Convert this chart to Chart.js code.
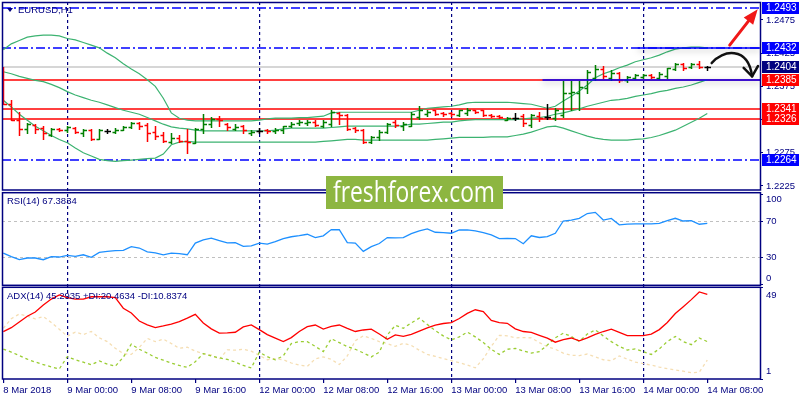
<!DOCTYPE html>
<html lang="en">

<head>
    <meta charset="UTF-8" />
    <title>EURUSD,H1</title>
    <script src="https://cdn.jsdelivr.net/npm/chart.js@4.4.1/dist/chart.umd.min.js"></script>
    <style type="text/css">
        body {
            margin: 0;
            background: #ffffff;
        }

        .chartBox {
            width: 800px;
            height: 400px;
        }
    </style>
</head>

<body>
    <div class="chartBox">
        <canvas id="myChart" width="800" height="400"></canvas>
    </div>

    <script>
        // time axis: one bar per hour, label every 8 bars, grid at day start
        const tickIdx = [0, 8, 16, 24, 32, 40, 48, 56, 64, 72, 80, 88];
        const timeLabels = ['8 Mar 2018', '9 Mar 00:00', '9 Mar 08:00', '9 Mar 16:00', '12 Mar 00:00', '12 Mar 08:00',
            '12 Mar 16:00', '13 Mar 00:00', '13 Mar 08:00', '13 Mar 16:00', '14 Mar 00:00', '14 Mar 08:00'];
        const dayIdx = [8, 32, 56, 80];

        const priceTicks = [1.2225, 1.2275, 1.2325, 1.2375, 1.2425, 1.2475];
        const rsiTicks = [100, 70, 30, 0];
        const rsiLevels = [70, 30];
        const adxTicks = [49, 1];

        // EURUSD H1 bars
        const opens = [1.2403, 1.2349, 1.2325, 1.2311, 1.2317, 1.2312, 1.2302, 1.2311, 1.2309, 1.2312,
            1.2304, 1.2309, 1.2296, 1.2308, 1.2306, 1.2310, 1.2314, 1.2320, 1.2317, 1.2306,
            1.2302, 1.2291, 1.2297, 1.2292, 1.2290, 1.2311, 1.2319, 1.2326, 1.2319, 1.2311,
            1.2316, 1.2305, 1.2308, 1.2310, 1.2307, 1.2309, 1.2316, 1.2320, 1.2320, 1.2322,
            1.2316, 1.2319, 1.2335, 1.2332, 1.2312, 1.2309, 1.2291, 1.2299, 1.2306, 1.2321,
            1.2315, 1.2316, 1.2329, 1.2334, 1.2339, 1.2335, 1.2335, 1.2332, 1.2335, 1.2339,
            1.2339, 1.2332, 1.2331, 1.2325, 1.2327, 1.2331, 1.2317, 1.2331, 1.2329, 1.2327,
            1.2332, 1.2365, 1.2365, 1.2372, 1.2388, 1.2401, 1.2387, 1.2395, 1.2385, 1.2387,
            1.2389, 1.2392, 1.2387, 1.2391, 1.2401, 1.2409, 1.2404, 1.2409, 1.2404];
        const highs = [1.2404, 1.2354, 1.2336, 1.2320, 1.2319, 1.2316, 1.2312, 1.2312, 1.2316, 1.2314,
            1.2311, 1.2311, 1.2311, 1.2311, 1.2312, 1.2316, 1.2321, 1.2321, 1.2320, 1.2316,
            1.2306, 1.2304, 1.2301, 1.2311, 1.2312, 1.2334, 1.2329, 1.2330, 1.2320, 1.2319,
            1.2317, 1.2309, 1.2312, 1.2311, 1.2312, 1.2316, 1.2321, 1.2324, 1.2325, 1.2324,
            1.2324, 1.2339, 1.2337, 1.2334, 1.2314, 1.2311, 1.2300, 1.2309, 1.2320, 1.2325,
            1.2322, 1.2336, 1.2345, 1.2340, 1.2340, 1.2337, 1.2336, 1.2340, 1.2342, 1.2340,
            1.2340, 1.2334, 1.2332, 1.2329, 1.2335, 1.2334, 1.2334, 1.2336, 1.2349, 1.2342,
            1.2383, 1.2383, 1.2383, 1.2400, 1.2407, 1.2405, 1.2400, 1.2397, 1.2390, 1.2394,
            1.2394, 1.2393, 1.2397, 1.2403, 1.2410, 1.2410, 1.2410, 1.2413, 1.2405];
        const lows = [1.2348, 1.2324, 1.2302, 1.2305, 1.2305, 1.2296, 1.2300, 1.2307, 1.2306, 1.2304,
            1.2300, 1.2294, 1.2295, 1.2304, 1.2305, 1.2309, 1.2312, 1.2311, 1.2292, 1.2296,
            1.2291, 1.2289, 1.2291, 1.2274, 1.2289, 1.2304, 1.2314, 1.2315, 1.2309, 1.2309,
            1.2304, 1.2302, 1.2304, 1.2304, 1.2305, 1.2304, 1.2314, 1.2317, 1.2317, 1.2315,
            1.2314, 1.2315, 1.2319, 1.2310, 1.2306, 1.2289, 1.2289, 1.2294, 1.2305, 1.2314,
            1.2309, 1.2315, 1.2326, 1.2331, 1.2332, 1.2331, 1.2331, 1.2331, 1.2332, 1.2335,
            1.2330, 1.2329, 1.2327, 1.2324, 1.2324, 1.2315, 1.2314, 1.2323, 1.2326, 1.2324,
            1.2329, 1.2339, 1.2339, 1.2365, 1.2385, 1.2387, 1.2385, 1.2382, 1.2382, 1.2386,
            1.2388, 1.2388, 1.2386, 1.2388, 1.2400, 1.2400, 1.2403, 1.2403, 1.2400];
        const closes = [1.2349, 1.2325, 1.2311, 1.2319, 1.2311, 1.2304, 1.2311, 1.2309, 1.2314, 1.2306,
            1.2309, 1.2295, 1.2310, 1.2308, 1.2310, 1.2314, 1.2320, 1.2316, 1.2304, 1.2300,
            1.2292, 1.2297, 1.2292, 1.2291, 1.2311, 1.2319, 1.2326, 1.2324, 1.2314, 1.2314,
            1.2309, 1.2306, 1.2308, 1.2308, 1.2310, 1.2315, 1.2319, 1.2321, 1.2322, 1.2317,
            1.2321, 1.2336, 1.2332, 1.2311, 1.2309, 1.2291, 1.2299, 1.2306, 1.2319, 1.2317,
            1.2319, 1.2334, 1.2339, 1.2337, 1.2334, 1.2334, 1.2333, 1.2339, 1.2339, 1.2336,
            1.2332, 1.2330, 1.2329, 1.2327, 1.2327, 1.2320, 1.2332, 1.2328, 1.2329, 1.2339,
            1.2365, 1.2366, 1.2374, 1.2397, 1.2401, 1.2390, 1.2395, 1.2385, 1.2389, 1.2392,
            1.2392, 1.2389, 1.2394, 1.2402, 1.2409, 1.2403, 1.2409, 1.2404, 1.2404];

        // Bollinger Bands
        const bbUpper = [1.2430, 1.2439, 1.2444, 1.2449, 1.2451, 1.2452, 1.2452, 1.2451, 1.2447, 1.2445,
            1.2441, 1.2437, 1.2433, 1.2425, 1.2418, 1.2409, 1.2401, 1.2394, 1.2385, 1.2375,
            1.2357, 1.2335, 1.2327, 1.2324, 1.2323, 1.2323, 1.2323, 1.2323, 1.2323, 1.2323,
            1.2323, 1.2323, 1.2324, 1.2326, 1.2327, 1.2327, 1.2327, 1.2328, 1.2328, 1.2329,
            1.2330, 1.2335, 1.2336, 1.2336, 1.2336, 1.2336, 1.2336, 1.2336, 1.2336, 1.2336,
            1.2336, 1.2336, 1.2339, 1.2342, 1.2343, 1.2344, 1.2345, 1.2347, 1.2350, 1.2351,
            1.2351, 1.2351, 1.2351, 1.2351, 1.2350, 1.2349, 1.2348, 1.2345, 1.2342, 1.2345,
            1.2353, 1.2360, 1.2368, 1.2377, 1.2388, 1.2394, 1.2398, 1.2403, 1.2407, 1.2412,
            1.2415, 1.2418, 1.2422, 1.2427, 1.2431, 1.2433, 1.2434, 1.2434, 1.2433];
        const bbMiddle = [1.2397, 1.2394, 1.2390, 1.2387, 1.2384, 1.2382, 1.2378, 1.2373, 1.2367, 1.2362,
            1.2358, 1.2354, 1.2351, 1.2347, 1.2343, 1.2339, 1.2336, 1.2333, 1.2328, 1.2323,
            1.2318, 1.2314, 1.2312, 1.2311, 1.2309, 1.2308, 1.2308, 1.2308, 1.2308, 1.2308,
            1.2308, 1.2308, 1.2308, 1.2308, 1.2309, 1.2311, 1.2312, 1.2312, 1.2312, 1.2312,
            1.2312, 1.2313, 1.2314, 1.2315, 1.2315, 1.2315, 1.2315, 1.2315, 1.2315, 1.2315,
            1.2316, 1.2318, 1.2318, 1.2319, 1.2320, 1.2321, 1.2321, 1.2323, 1.2324, 1.2325,
            1.2325, 1.2325, 1.2325, 1.2325, 1.2325, 1.2326, 1.2327, 1.2328, 1.2330, 1.2333,
            1.2335, 1.2338, 1.2341, 1.2345, 1.2348, 1.2351, 1.2354, 1.2355, 1.2357, 1.2360,
            1.2362, 1.2364, 1.2367, 1.2369, 1.2372, 1.2374, 1.2377, 1.2381, 1.2385];
        const bbLower = [1.2354, 1.2344, 1.2333, 1.2324, 1.2315, 1.2308, 1.2301, 1.2295, 1.2290, 1.2282,
            1.2275, 1.2270, 1.2265, 1.2263, 1.2262, 1.2263, 1.2264, 1.2265, 1.2266, 1.2267,
            1.2273, 1.2287, 1.2291, 1.2292, 1.2291, 1.2291, 1.2291, 1.2291, 1.2291, 1.2291,
            1.2291, 1.2291, 1.2291, 1.2291, 1.2291, 1.2291, 1.2291, 1.2291, 1.2291, 1.2291,
            1.2292, 1.2293, 1.2294, 1.2295, 1.2295, 1.2294, 1.2294, 1.2294, 1.2294, 1.2294,
            1.2294, 1.2294, 1.2294, 1.2294, 1.2295, 1.2296, 1.2297, 1.2298, 1.2298, 1.2298,
            1.2298, 1.2299, 1.2299, 1.2299, 1.2301, 1.2303, 1.2306, 1.2310, 1.2314, 1.2315,
            1.2312, 1.2308, 1.2304, 1.2300, 1.2297, 1.2295, 1.2294, 1.2294, 1.2294, 1.2295,
            1.2296, 1.2298, 1.2301, 1.2305, 1.2309, 1.2315, 1.2321, 1.2327, 1.2334];

        // RSI(14)
        const rsi = [34.4, 30.5, 27.2, 28.9, 28.9, 27.0, 30.5, 30.0, 31.8, 30.7,
            32.5, 29.6, 35.2, 36.2, 37.1, 37.3, 41.5, 40.0, 35.8, 34.5,
            32.5, 34.3, 33.7, 32.5, 45.4, 49.1, 50.9, 48.2, 45.6, 46.0,
            41.8, 42.4, 45.4, 44.4, 47.0, 50.5, 52.5, 53.7, 55.3, 51.6,
            53.5, 60.5, 60.3, 46.0, 45.4, 36.2, 41.5, 45.0, 51.6, 51.3,
            51.6, 56.0, 59.0, 61.2, 57.5, 57.0, 56.4, 60.0, 60.1, 59.0,
            57.0, 54.5, 50.5, 50.7, 50.5, 44.7, 53.6, 51.7, 52.7, 56.4,
            70.0, 71.0, 73.0, 78.3, 79.6, 71.1, 72.8, 65.8, 66.6, 66.7,
            66.7, 66.9, 67.3, 70.5, 73.0, 70.0, 70.4, 66.4, 67.4];

        // ADX(14)
        const adx = [25.7, 27.8, 30.8, 33.8, 36.0, 39.7, 42.8, 45.0, 43.5, 42.8,
            42.8, 44.0, 44.0, 44.0, 43.6, 38.0, 35.5, 31.3, 29.3, 27.8,
            28.7, 29.7, 31.0, 32.8, 34.8, 30.3, 27.2, 25.0, 25.1, 25.4,
            28.2, 29.3, 26.8, 24.2, 22.3, 20.5, 22.6, 25.8, 28.3, 29.2,
            27.1, 28.5, 29.2, 27.4, 25.8, 26.6, 27.0, 24.5, 21.7, 24.0,
            23.3, 24.3, 26.0, 27.7, 29.1, 30.0, 30.5, 32.6, 35.3, 37.2,
            36.2, 31.6, 30.5, 30.1, 27.2, 25.8, 25.3, 23.8, 22.3, 20.2,
            21.6, 22.4, 20.9, 22.5, 24.3, 25.8, 27.0, 25.3, 23.6, 23.6,
            23.6, 24.4, 26.8, 30.5, 35.2, 38.8, 42.5, 46.5, 45.3];
        const plusDI = [16.6, 15.0, 13.2, 11.3, 9.8, 8.5, 7.3, 6.2, 12.6, 11.0,
            9.7, 8.4, 10.4, 8.7, 7.6, 12.3, 19.2, 16.5, 14.5, 12.2,
            10.8, 9.3, 8.0, 7.0, 10.0, 14.2, 13.0, 12.0, 11.2, 9.8,
            8.0, 6.7, 15.0, 12.6, 11.0, 13.0, 19.5, 20.5, 20.5, 18.0,
            15.3, 22.0, 20.0, 17.9, 16.5, 14.6, 12.5, 15.0, 24.0, 29.0,
            27.5, 30.3, 32.8, 29.5, 26.3, 23.5, 21.4, 23.0, 25.5, 23.0,
            20.0, 16.5, 13.8, 16.5, 17.0, 15.6, 14.5, 15.2, 18.7, 22.5,
            24.9, 23.2, 20.6, 24.5, 26.6, 23.5, 20.5, 18.0, 16.1, 16.7,
            15.2, 13.8, 16.7, 20.5, 23.2, 20.5, 18.9, 22.4, 20.5];
        const minusDI = [27.5, 32.5, 35.0, 33.8, 32.4, 33.6, 30.5, 27.0, 23.3, 25.5,
            24.2, 25.8, 22.5, 20.5, 17.0, 14.2, 13.8, 17.5, 22.2, 20.5,
            21.8, 19.5, 17.0, 17.6, 15.5, 14.2, 13.5, 11.2, 16.2, 16.0,
            16.5, 15.5, 13.3, 11.0, 11.6, 11.0, 9.3, 8.2, 7.5, 11.5,
            12.5, 11.2, 8.5, 13.0, 21.0, 23.5, 22.2, 20.5, 19.5, 18.0,
            19.6, 18.5, 16.0, 13.8, 12.8, 11.6, 10.5, 9.5, 8.2, 6.8,
            11.5, 18.0, 23.8, 23.5, 22.5, 22.6, 22.5, 20.0, 17.9, 16.5,
            14.5, 13.3, 13.2, 14.0, 12.5, 11.0, 10.5, 13.0, 11.3, 9.8,
            9.0, 8.2, 7.2, 6.3, 5.7, 5.0, 4.2, 4.5, 10.8];

        // horizontal price levels drawn on the chart and their axis tags
        const levelPrices = [1.2493, 1.2432, 1.2404, 1.2385, 1.2341, 1.2326, 1.2264];
        // solid trend parts of two levels: start bar and price
        const segFrom = [79.3, 67.4];
        const segPrice = [1.2432, 1.2385];

        // hand drawn arrows (bar index, price)
        const redArrowX = [90.8, 94.3];
        const redArrowY = [1.2437, 1.2491];
        const curveX = [88.55, 89.85, 93.1, 93.6];
        const curveY = [1.2410, 1.2430, 1.2436, 1.2390];

        const symbolTitle = 'EURUSD,H1';
        const rsiTitle = 'RSI(14) 67.3834';
        const adxTitle = 'ADX(14) 45.2935 +DI:20.4634 -DI:10.8374';
        const watermark = 'freshforex.com';

        // ---------------------------------------------------------------
        const NAVY = '#000080';
        const FONT = '"Liberation Sans", Arial, sans-serif';
        const SMALL = '9.5px ' + FONT;

        const levelLook = [
            { color: '#0000ff', width: 1.5, dash: [9, 3, 2, 3], tag: '#0000ff' },
            { color: '#0000ff', width: 1.5, dash: [9, 3, 2, 3], tag: '#0000ff' },
            { color: '#c8c8c8', width: 1.5, dash: [], tag: '#000080' },
            { color: '#ff0000', width: 1.5, dash: [], tag: '#ff0000' },
            { color: '#ff0000', width: 1.5, dash: [], tag: '#ff0000' },
            { color: '#ff0000', width: 1.5, dash: [], tag: '#ff0000' },
            { color: '#0000ff', width: 1.5, dash: [9, 3, 2, 3], tag: '#0000ff' }
        ];

        const pts = arr => arr.map((v, i) => ({ x: i, y: v }));

        const overlay = {
            id: 'overlay',
            beforeDatasetsDraw(chart) {
                const { ctx, chartArea: a, scales } = chart;
                const ym = scales.yMain, yr = scales.yRsi, x = scales.x;
                ctx.save();
                ctx.beginPath();
                ctx.rect(a.left, ym.top, a.right - a.left, ym.bottom - ym.top);
                ctx.clip();
                levelPrices.forEach((p, k) => {
                    const st = levelLook[k];
                    const y = Math.round(ym.getPixelForValue(p));
                    ctx.strokeStyle = st.color;
                    ctx.lineWidth = st.width;
                    ctx.setLineDash(st.dash);
                    ctx.beginPath();
                    ctx.moveTo(a.left, y);
                    ctx.lineTo(a.right, y);
                    ctx.stroke();
                });
                ctx.restore();

                // RSI 70 / 30
                ctx.save();
                ctx.strokeStyle = '#c0c0c0';
                ctx.lineWidth = 1;
                ctx.setLineDash([3, 3]);
                rsiLevels.forEach(v => {
                    const y = Math.round(yr.getPixelForValue(v)) + 0.5;
                    ctx.beginPath();
                    ctx.moveTo(a.left, y);
                    ctx.lineTo(a.right, y);
                    ctx.stroke();
                });
                ctx.restore();
            },
            afterDatasetsDraw(chart) {
                const { ctx, chartArea: a, scales } = chart;
                const ym = scales.yMain, x = scales.x;
                ctx.save();
                ctx.beginPath();
                ctx.rect(a.left, ym.top, a.right - a.left, ym.bottom - ym.top);
                ctx.clip();

                // OHLC bars
                ctx.lineWidth = 1.5;
                for (let i = 0; i < closes.length; i++) {
                    const px = Math.round(x.getPixelForValue(i)) + 0.5;
                    const yo = Math.round(ym.getPixelForValue(opens[i])) + 0.5;
                    const yh = Math.round(ym.getPixelForValue(highs[i]));
                    const yl = Math.round(ym.getPixelForValue(lows[i])) + 1;
                    const yc = Math.round(ym.getPixelForValue(closes[i])) + 0.5;
                    ctx.strokeStyle = closes[i] > opens[i] ? '#008000' : (closes[i] < opens[i] ? '#ff0000' : '#000000');
                    ctx.beginPath();
                    ctx.moveTo(px, yh);
                    ctx.lineTo(px, yl);
                    ctx.moveTo(px - 3, yo);
                    ctx.lineTo(px, yo);
                    ctx.moveTo(px, yc);
                    ctx.lineTo(px + 3.5, yc);
                    ctx.stroke();
                }

                // solid blue trend parts with shadow
                ctx.strokeStyle = '#0000ff';
                ctx.lineWidth = 1.5;
                ctx.shadowColor = 'rgba(0,0,0,0.35)';
                ctx.shadowBlur = 6;
                ctx.shadowOffsetY = 2;
                segFrom.forEach((s, k) => {
                    const y = Math.round(ym.getPixelForValue(segPrice[k]));
                    ctx.beginPath();
                    ctx.moveTo(x.getPixelForValue(s), y);
                    ctx.lineTo(a.right, y);
                    ctx.stroke();
                });
                ctx.restore();
            },
            afterDraw(chart) {
                const { ctx, chartArea: a, scales } = chart;
                const ym = scales.yMain, yr = scales.yRsi, ya = scales.yAdx, x = scales.x;
                const w = a.right - a.left;
                ctx.save();

                // panel frames
                ctx.strokeStyle = NAVY;
                ctx.lineWidth = 1.5;
                ctx.strokeRect(a.left + 0.5, ym.top + 0.5, w, ym.bottom - ym.top - 0.5);
                ctx.strokeRect(a.left + 0.5, yr.top + 2.7, w, yr.bottom - yr.top - 3.4);
                ctx.strokeRect(a.left + 0.5, ya.top + 1.3, w, ya.bottom - ya.top - 1.3);

                // panel titles
                ctx.fillStyle = NAVY;
                ctx.font = SMALL;
                ctx.textBaseline = 'middle';
                ctx.textAlign = 'left';
                ctx.beginPath();
                ctx.moveTo(a.left + 5, ym.top + 6);
                ctx.lineTo(a.left + 11, ym.top + 6);
                ctx.lineTo(a.left + 8, ym.top + 10);
                ctx.closePath();
                ctx.fill();
                ctx.fillText(symbolTitle, a.left + 16, ym.top + 8.5);
                ctx.fillText(rsiTitle, a.left + 5, yr.top + 11);
                ctx.fillText(adxTitle, a.left + 5, ya.top + 10.5);

                // RSI / ADX axis labels
                const sideLabels = (scale, values) => {
                    values.forEach(v => {
                        const py = scale.getPixelForValue(v);
                        const ty = Math.min(Math.max(py, scale.top + 9), scale.bottom - 7.5);
                        ctx.fillStyle = NAVY;
                        ctx.fillRect(a.right, Math.round(py), 3, 1);
                        ctx.fillText(String(v), a.right + 6, ty);
                    });
                };
                sideLabels(yr, rsiTicks);
                sideLabels(ya, adxTicks);

                // price tags on the axis
                levelPrices.forEach((p, k) => {
                    const y = ym.getPixelForValue(p);
                    ctx.fillStyle = levelLook[k].tag;
                    ctx.fillRect(a.right + 2, Math.round(y) - 6, 37, 12);
                    ctx.fillStyle = '#ffffff';
                    ctx.font = '10px ' + FONT;
                    ctx.fillText(p.toFixed(4), a.right + 6, Math.round(y) + 0.5);
                });

                // red arrow
                const rx0 = x.getPixelForValue(redArrowX[0]), ry0 = ym.getPixelForValue(redArrowY[0]);
                const rx1 = x.getPixelForValue(redArrowX[1]), ry1 = ym.getPixelForValue(redArrowY[1]);
                const ang = Math.atan2(ry1 - ry0, rx1 - rx0);
                ctx.strokeStyle = '#f01818';
                ctx.fillStyle = '#f01818';
                ctx.lineWidth = 3;
                ctx.lineCap = 'round';
                ctx.beginPath();
                ctx.moveTo(rx0, ry0);
                ctx.lineTo(rx1 - 10 * Math.cos(ang), ry1 - 10 * Math.sin(ang));
                ctx.stroke();
                ctx.beginPath();
                ctx.moveTo(rx1, ry1);
                ctx.lineTo(rx1 - 15 * Math.cos(ang) + 6 * Math.sin(ang), ry1 - 15 * Math.sin(ang) - 6 * Math.cos(ang));
                ctx.lineTo(rx1 - 15 * Math.cos(ang) - 6 * Math.sin(ang), ry1 - 15 * Math.sin(ang) + 6 * Math.cos(ang));
                ctx.closePath();
                ctx.fill();

                // black curved arrow
                const cx = curveX.map(v => x.getPixelForValue(v));
                const cy = curveY.map(v => ym.getPixelForValue(v));
                ctx.strokeStyle = '#111111';
                ctx.lineWidth = 2.5;
                ctx.beginPath();
                ctx.moveTo(cx[0], cy[0]);
                ctx.bezierCurveTo(cx[1], cy[1], cx[2], cy[2], cx[3], cy[3]);
                ctx.stroke();
                const bang = Math.atan2(cy[3] - cy[2], cx[3] - cx[2]);
                ctx.beginPath();
                [0.65, -0.65].forEach(d => {
                    ctx.moveTo(cx[3], cy[3]);
                    ctx.lineTo(cx[3] - 12 * Math.cos(bang + d), cy[3] - 12 * Math.sin(bang + d));
                });
                ctx.stroke();

                // watermark
                ctx.fillStyle = '#8db641';
                ctx.fillRect(326, 176, 177, 33);
                ctx.fillStyle = '#ffffff';
                ctx.font = '29px "Open Sans", ' + FONT;
                ctx.textBaseline = 'alphabetic';
                ctx.fillText(watermark, 333, 202, 162);

                ctx.restore();
            }
        };

        window.addEventListener('load', setup);

        function setup() {
            Chart.defaults.font.family = FONT;
            const ctx = document.getElementById('myChart').getContext('2d');
            // fixed axis sizes, no label overhang padding
            const fitW = s => { s.width = 40; s.paddingTop = 0; s.paddingBottom = 0; };

            const myChart = new Chart(ctx, {
                type: 'line',
                data: {
                    datasets: [
                        { label: 'ADX', data: pts(adx), yAxisID: 'yAdx', borderColor: '#ff0000', borderWidth: 1.3 },
                        { label: '+DI', data: pts(plusDI), yAxisID: 'yAdx', borderColor: '#9acd32', borderDash: [3, 3], borderWidth: 1.3 },
                        { label: '-DI', data: pts(minusDI), yAxisID: 'yAdx', borderColor: '#f5deb3', borderDash: [3, 3], borderWidth: 1.3 },
                        { label: 'RSI', data: pts(rsi), yAxisID: 'yRsi', borderColor: '#1e90ff', borderWidth: 1.3 },
                        { label: 'BB upper', data: pts(bbUpper), yAxisID: 'yMain', borderColor: '#3cb371', borderWidth: 1.2 },
                        { label: 'BB middle', data: pts(bbMiddle), yAxisID: 'yMain', borderColor: '#3cb371', borderWidth: 1.2 },
                        { label: 'BB lower', data: pts(bbLower), yAxisID: 'yMain', borderColor: '#3cb371', borderWidth: 1.2 }
                    ]
                },
                options: {
                    responsive: false,
                    animation: false,
                    devicePixelRatio: 1,
                    layout: { padding: { left: 2, top: 2, right: 0, bottom: 0 } },
                    plugins: { legend: { display: false }, tooltip: { enabled: false } },
                    elements: { point: { radius: 0 }, line: { tension: 0, fill: false } },
                    scales: {
                        x: {
                            type: 'linear',
                            min: -0.1625,
                            max: 94.5875,
                            afterBuildTicks: s => { s.ticks = tickIdx.map(v => ({ value: v })); },
                            afterFit: s => { s.height = 21; s.paddingLeft = 0; s.paddingRight = 0; },
                            ticks: {
                                autoSkip: false,
                                maxRotation: 0,
                                align: 'start',
                                padding: 2,
                                color: NAVY,
                                font: { size: 9.5 },
                                callback: (v, i) => timeLabels[i]
                            },
                            grid: {
                                color: c => (c.tick && dayIdx.includes(c.tick.value)) ? NAVY : 'rgba(0,0,0,0)',
                                lineWidth: 1.2,
                                tickColor: NAVY,
                                tickLength: 4
                            },
                            border: { display: false, dash: [3, 3] }
                        },
                        yMain: {
                            type: 'linear', position: 'right', stack: 'pane', stackWeight: 188,
                            min: 1.22189, max: 1.25020,
                            afterFit: fitW,
                            afterBuildTicks: s => { s.ticks = priceTicks.map(v => ({ value: v })); },
                            ticks: {
                                autoSkip: false,
                                padding: 3,
                                color: NAVY,
                                font: { size: 9.5 },
                                callback: v => v.toFixed(4)
                            },
                            grid: { drawOnChartArea: false, tickLength: 3, tickColor: NAVY },
                            border: { display: false }
                        },
                        yRsi: {
                            type: 'linear', position: 'right', stack: 'pane', stackWeight: 96,
                            min: -2.2, max: 104.44,
                            afterFit: fitW,
                            ticks: { display: false },
                            grid: { display: false },
                            border: { display: false }
                        },
                        yAdx: {
                            type: 'linear', position: 'right', stack: 'pane', stackWeight: 93,
                            min: 0.92, max: 49.64,
                            afterFit: fitW,
                            ticks: { display: false },
                            grid: { display: false },
                            border: { display: false }
                        }
                    }
                },
                plugins: [overlay]
            });
        }
    </script>
</body>

</html>
